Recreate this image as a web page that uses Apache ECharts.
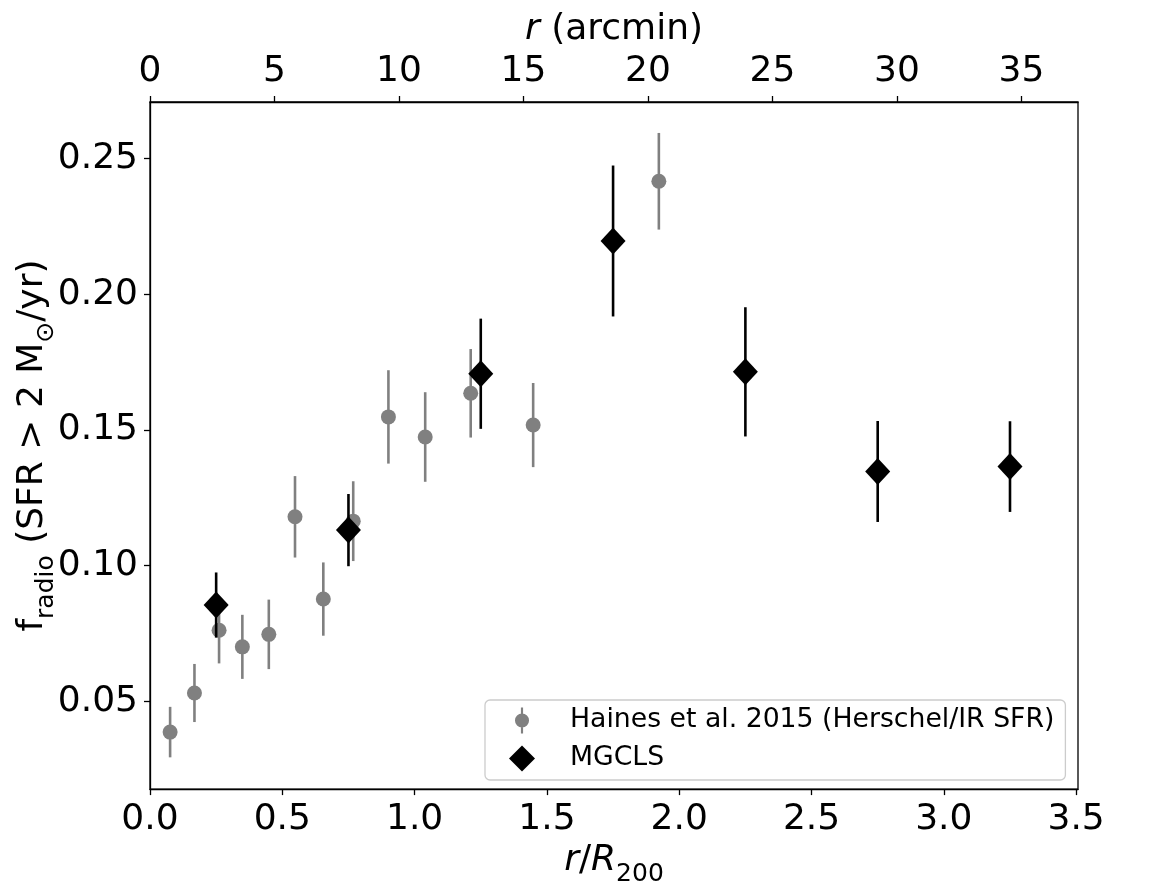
<!DOCTYPE html>
<html>
<head>
<meta charset="utf-8">
<script src="https://cdn.jsdelivr.net/npm/echarts@6/dist/echarts.min.js"></script>
<style>html,body{margin:0;padding:0;background:#fff;}#c{width:1172px;height:892px;}</style>
</head>
<body>
<div id="c"></div>
<script>
// Haines et al. 2015 (Herschel/IR SFR)
var hainesR   = [0.076, 0.168, 0.261, 0.349, 0.449, 0.548, 0.655, 0.768, 0.901, 1.040, 1.212, 1.448, 1.923];
var hainesF   = [0.0387, 0.0531, 0.0762, 0.0701, 0.0747, 0.1180, 0.0877, 0.1164, 0.1548, 0.1474, 0.1635, 0.1518, 0.2416];
var hainesErr = [0.0093, 0.0107, 0.0122, 0.0118, 0.0128, 0.0150, 0.0135, 0.0147, 0.0172, 0.0165, 0.0163, 0.0155, 0.0178];
// MGCLS
var mgclsR    = [0.25, 0.75, 1.25, 1.75, 2.25, 2.75, 3.25];
var mgclsF    = [0.0855, 0.1131, 0.1707, 0.2196, 0.1714, 0.1347, 0.1365];
var mgclsErr  = [0.0120, 0.0133, 0.0203, 0.0278, 0.0238, 0.0186, 0.0167];
// tick values
var xTicks      = [0, 0.5, 1.0, 1.5, 2.0, 2.5, 3.0, 3.5];
var xTopTicks   = [0, 5, 10, 15, 20, 25, 30, 35];
var yTicks      = [0.05, 0.10, 0.15, 0.20, 0.25];

var FONT = 'DejaVu Sans';
function pts(xs, ys){ return xs.map(function(x,i){ return [x, ys[i]]; }); }
function errs(xs, ys, es){ return xs.map(function(x,i){ return [x, ys[i]-es[i], ys[i]+es[i]]; }); }
function errRender(color){
  return function(params, api){
    var p1 = api.coord([api.value(0), api.value(1)]);
    var p2 = api.coord([api.value(0), api.value(2)]);
    return {type:'line', shape:{x1:p1[0], y1:p1[1], x2:p2[0], y2:p2[1]},
            style:{stroke:color, lineWidth:2.6}};
  };
}
var nameRich = {
  m: {fontSize:36, fontFamily:FONT, color:'#000', lineHeight:44, verticalAlign:'top'},
  i: {fontSize:36, fontFamily:FONT, fontStyle:'italic', color:'#000', lineHeight:44, verticalAlign:'top'},
  s: {fontSize:25, fontFamily:FONT, color:'#000', lineHeight:25, verticalAlign:'bottom'}
};
var axisLineStyle = {color:'#000', width:1.3};
var tickStyle = {show:true, length:6, lineStyle:{color:'#000', width:1.3}};
var labelStyle = {fontSize:36, fontFamily:FONT, color:'#000'};

var chart = echarts.init(document.getElementById('c'));
chart.setOption({
  animation:false,
  backgroundColor:'#fff',
  grid:{left:150, right:94, top:102, bottom:98, show:true, borderColor:'#000', borderWidth:1.3, backgroundColor:'transparent'},
  xAxis:[
    {type:'value', position:'bottom', min:0, max:3.507,
     name:'{i|r}{m|/}{i|R}{s|200}', nameLocation:'middle', nameGap:37, nameTextStyle:{rich:nameRich},
     axisLine:{show:true, lineStyle:axisLineStyle},
     axisTick:Object.assign({customValues:xTicks}, tickStyle),
     axisLabel:Object.assign({customValues:xTicks, margin:13, formatter:function(v){return v.toFixed(1);}}, labelStyle),
     splitLine:{show:false}},
    {type:'value', position:'top', min:0, max:37.27,
     name:'{i|r}{m| (arcmin)}', nameLocation:'middle', nameGap:46, nameTextStyle:{rich:nameRich},
     axisLine:{show:true, lineStyle:axisLineStyle},
     axisTick:Object.assign({customValues:xTopTicks}, tickStyle),
     axisLabel:Object.assign({customValues:xTopTicks, margin:12, formatter:function(v){return String(v);}}, labelStyle),
     splitLine:{show:false}}
  ],
  yAxis:[
    {type:'value', min:0.0177, max:0.2708,
     name:'{m|f}{s|radio}{m| (SFR > 2 M}{s|⊙}{m|/yr)}', nameLocation:'middle', nameGap:91, nameRotate:90,
     nameMoveOverlap:false,
     nameTextStyle:{rich:nameRich},
     axisLine:{show:true, lineStyle:axisLineStyle},
     axisTick:Object.assign({customValues:yTicks}, tickStyle),
     axisLabel:Object.assign({customValues:yTicks, margin:12, formatter:function(v){return v.toFixed(2);}}, labelStyle),
     splitLine:{show:false}}
  ],
  legend:{
    left:485, top:700, orient:'vertical', selectedMode:false,
    padding:[7, 11, 8, 24], itemGap:11, itemWidth:26, itemHeight:26,
    backgroundColor:'#fff', borderColor:'#cccccc', borderWidth:1.3, borderRadius:5,
    textStyle:{fontSize:26.7, fontFamily:FONT, color:'#000', padding:[0,0,0,30]},
    data:[
      {name:'Haines et al. 2015 (Herschel/IR SFR)', icon:'path://M6,0h2v24h-2z M0.5,12a6.5,6.5 0 1,1 13,0a6.5,6.5 0 1,1 -13,0z', itemStyle:{color:'#808080'}},
      {name:'MGCLS', icon:'diamond', itemStyle:{color:'#000'}}
    ]
  },
  series:[
    {name:'Haines et al. 2015 (Herschel/IR SFR)', type:'custom', xAxisIndex:0, yAxisIndex:0,
     renderItem:errRender('#808080'), data:errs(hainesR, hainesF, hainesErr), z:2, itemStyle:{color:'#808080'}},
    {name:'Haines et al. 2015 (Herschel/IR SFR)', type:'scatter', xAxisIndex:0, yAxisIndex:0,
     symbol:'circle', symbolSize:15, itemStyle:{color:'#808080', opacity:1}, data:pts(hainesR, hainesF), z:3},
    {name:'MGCLS', type:'custom', xAxisIndex:0, yAxisIndex:0,
     renderItem:errRender('#000'), data:errs(mgclsR, mgclsF, mgclsErr), z:4, itemStyle:{color:'#000'}},
    {name:'MGCLS', type:'scatter', xAxisIndex:0, yAxisIndex:0,
     symbol:'diamond', symbolSize:[25,27], itemStyle:{color:'#000', opacity:1}, data:pts(mgclsR, mgclsF), z:5}
  ]
});
</script>
</body>
</html>
